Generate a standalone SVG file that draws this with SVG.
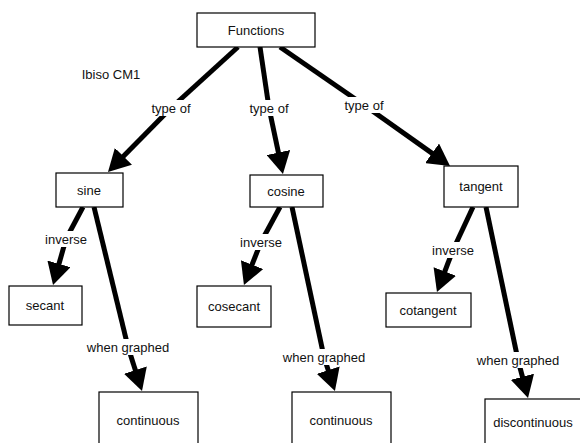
<svg xmlns="http://www.w3.org/2000/svg" width="580" height="443" viewBox="0 0 580 443">
<style>
.box{fill:#fff;stroke:#000;stroke-width:1.2}
.t{font-family:"Liberation Sans",Arial,sans-serif;font-size:13px;fill:#111;text-anchor:middle}
.ln{fill:none;stroke:#000;stroke-width:5}
.lb{fill:#fff}
</style>
<defs>
<marker id="ah" viewBox="0 0 22 24" refX="14" refY="12" markerWidth="22" markerHeight="24" markerUnits="userSpaceOnUse" orient="auto">
<path d="M0,0 L22,12 L0,24 z" fill="#000"/>
</marker>
</defs>
<rect width="580" height="443" fill="#fff"/>
<text class="t" x="111" y="79">Ibiso CM1</text>
<g id="connectors">
<path class="ln" d="M238,47 L171,108"/><path class="ln" d="M171,108 L113.6,166.3" marker-end="url(#ah)"/>
<path class="ln" d="M260,47 L269,108"/><path class="ln" d="M269,108 L281.3,166.2" marker-end="url(#ah)"/>
<path class="ln" d="M280,47 L364,105"/><path class="ln" d="M364,105 L443.5,161.4" marker-end="url(#ah)"/>
<path class="ln" d="M83,207 L66,239"/><path class="ln" d="M66,239 L55.2,277.3" marker-end="url(#ah)"/>
<path class="ln" d="M94,207 L128,347"/><path class="ln" d="M128,347 L139.6,383.4" marker-end="url(#ah)"/>
<path class="ln" d="M280,207 L261,242"/><path class="ln" d="M261,242 L246.9,277.6" marker-end="url(#ah)"/>
<path class="ln" d="M292,207 L324,357"/><path class="ln" d="M324,357 L332.5,383.4" marker-end="url(#ah)"/>
<path class="ln" d="M473,207 L453,250"/><path class="ln" d="M453,250 L439.8,284.5" marker-end="url(#ah)"/>
<path class="ln" d="M486,207 L518,360"/><path class="ln" d="M518,360 L526,390.3" marker-end="url(#ah)"/>
<g id="labels">
<rect class="lb" x="150" y="100" width="42" height="16"/><text class="t" x="171" y="113">type of</text>
<rect class="lb" x="248" y="100" width="42" height="16"/><text class="t" x="269" y="113">type of</text>
<rect class="lb" x="343" y="97" width="42" height="16"/><text class="t" x="364" y="110">type of</text>
<rect class="lb" x="43" y="231" width="46" height="16"/><text class="t" x="66" y="244">inverse</text>
<rect class="lb" x="238" y="234" width="46" height="16"/><text class="t" x="261" y="247">inverse</text>
<rect class="lb" x="430" y="242" width="46" height="16"/><text class="t" x="453" y="255">inverse</text>
<rect class="lb" x="84" y="339" width="88" height="16"/><text class="t" x="128" y="352">when graphed</text>
<rect class="lb" x="280" y="349" width="88" height="16"/><text class="t" x="324" y="362">when graphed</text>
<rect class="lb" x="474" y="352" width="88" height="16"/><text class="t" x="518" y="365">when graphed</text>
</g>
</g>
<g id="functions"><rect class="box" x="197" y="13" width="118" height="34"/><text class="t" x="256" y="35">Functions</text></g>
<g id="sine"><rect class="box" x="56" y="173" width="67" height="34"/><text class="t" x="89" y="195">sine</text></g>
<g id="cosine"><rect class="box" x="250" y="175" width="73" height="32"/><text class="t" x="286" y="196">cosine</text></g>
<g id="tangent"><rect class="box" x="444" y="166" width="74" height="41"/><text class="t" x="481" y="191">tangent</text></g>
<g id="secant"><rect class="box" x="9" y="286" width="73" height="39"/><text class="t" x="45" y="310">secant</text></g>
<g id="cosecant"><rect class="box" x="197" y="286" width="74" height="41"/><text class="t" x="234" y="311">cosecant</text></g>
<g id="cotangent"><rect class="box" x="386" y="293" width="85" height="34"/><text class="t" x="428" y="315">cotangent</text></g>
<g id="continuous1"><rect class="box" x="99" y="392" width="99" height="60"/><text class="t" x="148" y="425">continuous</text></g>
<g id="continuous2"><rect class="box" x="292" y="392" width="99" height="60"/><text class="t" x="341" y="425">continuous</text></g>
<g id="discontinuous"><rect class="box" x="485" y="399" width="100" height="60"/><text class="t" x="533" y="427">discontinuous</text></g>
</svg>
